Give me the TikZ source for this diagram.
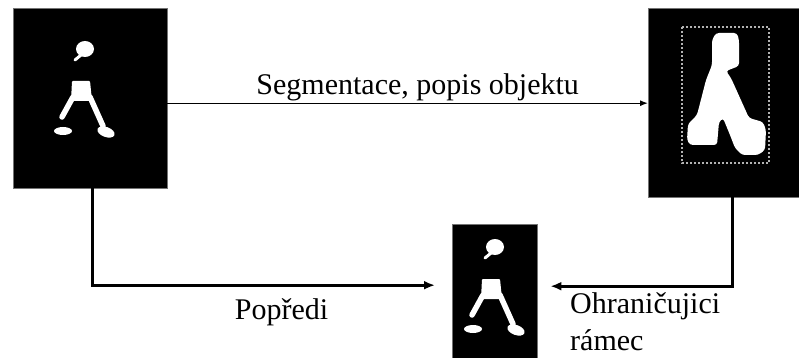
\documentclass[tikz,border=0pt]{standalone}
\usepackage{fontspec}
\setmainfont{Liberation Serif}
\usetikzlibrary{arrows.meta,positioning}
\tikzset{
	photo/.style = {draw=black!55, fill=black, inner sep=0pt, anchor=north west},
	link/.style = {draw, line width=2.6pt, -{Latex[length=11pt,width=9pt]}},
	thinlink/.style = {draw, line width=1.3pt, -{Latex[length=8pt,width=6pt]}},
	caption/.style = {font=\fontsize{30}{37}\selectfont, inner sep=2pt},
	bbox/.style = {draw=white!70!black, line width=1.4pt, dash pattern=on 2pt off 2pt},
	walker/.pic = {
		% head with a short stub
		\fill[white] (0,0) ellipse [x radius=9, y radius=8];
		\draw[white, line width=3pt, line cap=round] (-10,11) -- (-4,6);
		% torso and legs
		\fill[white, rounded corners=1pt] (-13,32) -- (5,32) -- (7,52) -- (-14,52) -- cycle;
		\draw[white, line width=5.5pt, line cap=round] (-12,48) -- (-23,68);
		\draw[white, line width=5.5pt, line cap=round] (5,48) -- (18,77);
		% feet
		\fill[white] (-22,82) ellipse [x radius=9, y radius=4];
		\fill[white, rotate around={-20:(21,83)}] (21,83) ellipse [x radius=9, y radius=5];
	}
}

\begin{document}
\begin{tikzpicture}[x=1pt, y=-1pt, >=latex]
	\useasboundingbox (0,0) rectangle (799,358);

	% the three images
	\node[photo, minimum width=154pt, minimum height=180pt] (frame) at (13,8) {};
	\node[photo, minimum width=151pt, minimum height=189pt] (mask) at (648,8) {};
	\node[photo, minimum width=85pt, minimum height=134pt] (crop) at (452,224) {};

	\pic at ([shift={(72,41)}]frame.north west) {walker};
	\pic at ([shift={(43,23)}]crop.north west) {walker};

	% segmented blob with its bounding box
	\begin{scope}[shift={(mask.north west)}]
		\fill[white, rounded corners=3pt] (68,25) -- (89,25) -- (91,32) -- (91,58) -- (78,63) -- (83,70)
			-- (101,110) -- (115,114) -- (118,122) -- (117,142) -- (110,147) -- (94,147) -- (87,140)
			-- (82,127) -- (75,110) -- (71,114) -- (69,137) -- (42,137) -- (39,132) -- (40,116)
			-- (49,107) -- (58,72) -- (64,57) -- (64,32) -- cycle;
		\draw[bbox] (34,19) rectangle (121,155);
	\end{scope}

	% connectors
	\draw[thinlink] ([yshift=-5pt]frame.east) -- ([yshift=-5pt]frame.east -| mask.west)
		node[midway, above, caption, xshift=10pt] {Segmentace, popis objektu};
	\draw[link, shorten >=17pt] ([xshift=2pt]frame.south) |- ([yshift=6pt]crop.west)
		node[pos=0.77, below=10pt, caption, xshift=-5pt] {Popředi};
	\draw[link, shorten >=13pt] ([xshift=8.5pt]mask.south) |- ([yshift=5pt]crop.east)
		node[pos=0.955, anchor=north west, yshift=-3pt, xshift=12pt, caption, align=left] {Ohraničujici\\rámec};
\end{tikzpicture}
\end{document}
